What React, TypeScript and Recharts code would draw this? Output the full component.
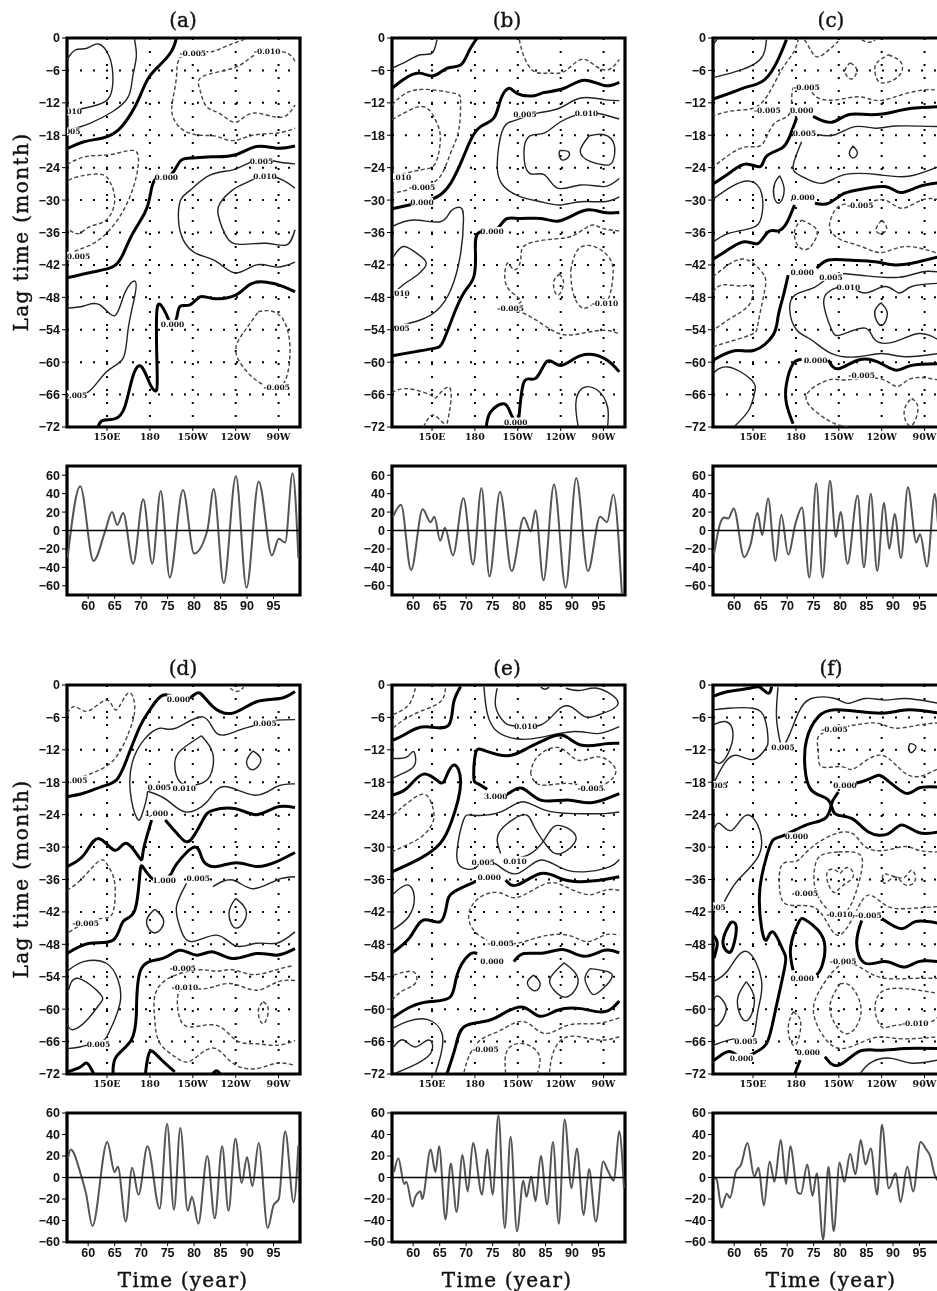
import React from 'react';
import { ScatterChart, Scatter, LineChart, Line, XAxis, YAxis, CartesianGrid, ReferenceArea, ReferenceLine } from 'recharts';

type Pt = number[];
type Contour = [number, Pt[]];
type Lab = [number, number, string];

const lonTicks = [150, 180, 210, 240, 270];
const lonTickLabels = ['150E', '180', '150W', '120W', '90W'];
const lagTicks = [0, -6, -12, -18, -24, -30, -36, -42, -48, -54, -60, -66, -72];
const yearTicks = [60, 65, 70, 75, 80, 85, 90, 95];
const ampTicksTop = [60, 40, 20, 0, -20, -40, -60];
const panelTitles = ['(a)', '(b)', '(c)', '(d)', '(e)', '(f)'];

// [contour level, [[longitude, lag], ...]]
const contoursA: Contour[] = [
  [0, [[198.6,0],[195,-2.5],[187,-5],[179,-7.4],[173,-10.8],[167,-13.9],[158,-17],[147,-18.5],[134,-19.2],[122,-20.5]]],
  [0.005, [[169,0],[170.5,-3.4],[168,-7.1],[165,-10.8],[154,-13.6],[138,-15.8],[124,-17]]],
  [0.01, [[122,-4],[128,-2.2],[136,-1.9],[144,-1.1],[151,-3.1],[154,-6.5],[152,-10.8],[143,-12.4],[134,-13],[123,-13.6]]],
  [-0.005, [[246.5,-0.2],[233.6,-1.5],[224,-2.5],[217,-2.5],[202,-3.4],[198.6,-7.1],[196,-11.4],[196,-14.5],[203,-17],[215,-18],[226.6,-18.2],[238,-19],[252,-18],[268.7,-17.6],[281.5,-16.7]]],
  [-0.01, [[281.5,-4.3],[275.7,-2.8],[262,-2.4],[250,-3.7],[238,-5.6],[217,-7.1],[215,-9.6],[219.6,-12.7],[229,-14],[240,-15.6],[252,-13.9],[271,-14.7],[281.5,-12.4]]],
  [0, [[281.5,-20],[268.7,-20.4],[254.6,-20.1],[240,-21.6],[224,-22],[210.3,-22.2],[202,-22.6],[197.4,-24.4],[191,-25.8],[183.4,-26.3],[180,-29.4],[176.4,-32.4],[168,-36.2],[161.4,-39.9],[154.4,-42.3],[140,-43.3],[122,-44.4]]],
  [-0.005, [[122,-23.4],[136,-21.9],[152,-21.6],[168,-20.8],[172,-22.6],[170.5,-25.6],[166,-29.4],[156.5,-34],[142.5,-37.7],[130,-39.2],[123,-40.2]]],
  [-0.01, [[123,-26.3],[131,-25.6],[145,-25.2],[152,-26.6],[155.4,-30],[149.5,-33.7],[138,-34.9],[130,-36.2],[122,-35.2]]],
  [0.005, [[281.5,-23.3],[271,-23],[260,-22.5],[250,-23],[238,-24.4],[222,-25.4],[208,-28.2],[201.5,-30],[200,-33.7],[203.4,-37.4],[212.6,-39.9],[226.6,-41.4],[240,-43.5],[254.6,-42],[268.7,-42.4],[281.5,-41.5]]],
  [0.01, [[281.5,-27.8],[273,-26.3],[260.5,-25.5],[249,-26.6],[238,-28.1],[229,-30.6],[228,-33],[233.6,-36.8],[243,-38.2],[261.7,-38],[275.7,-38.3],[281.5,-35.5]]],
  [0, [[281.5,-47],[273.4,-46],[261.7,-45.2],[250,-45.6],[240,-47.6],[224,-48.2],[215,-47.9],[208,-49.4],[201,-49.7],[198.6,-51.9],[195,-52.9],[192.7,-51.9],[187,-49.3],[184.6,-52.2],[185,-60.9],[184.6,-65.2],[180,-64],[174,-60.8],[168,-62.7],[162.4,-68.3],[155.4,-70.5],[147,-70.8],[143.7,-72]]],
  [0.005, [[122,-50],[133.7,-49.6],[145,-49.4],[155.4,-51.4],[162.4,-47.2],[169.4,-45],[169.4,-47.8],[164.7,-54],[161.2,-59.3],[149.5,-61.8],[137,-65.5],[122,-66]]],
  [-0.005, [[255.8,-50.7],[264,-50.5],[273.4,-52.2],[278,-57.2],[275.7,-62.7],[268.7,-64.6],[254.6,-63.4],[240.6,-58.7],[245,-54.7],[255.8,-50.7]]],
];
const labelsA: Lab[] = [[210,-2.8,'-0.005'],[262,-2.4,'-0.010'],[191.5,-25.8,'0.000'],[258,-22.7,'0.005'],[260.5,-25.5,'0.010'],[195.8,-52.9,'0.000'],[130,-40.3,'0.005'],[268.7,-64.6,'-0.005'],[128,-66,'0.005'],[127,-13.6,'010'],[126,-17.3,'005']];

const contoursB: Contour[] = [
  [0, [[181.6,0],[175.7,-2.5],[170,-5],[160.5,-5.6],[151,-7],[140.7,-6.5],[130,-7.7],[122,-9.3]]],
  [0.005, [[153.5,-0.3],[150,-2.8],[142,-3.1],[132.5,-4.3],[122,-5.6]]],
  [-0.005, [[211,-0.3],[214.3,-3.4],[221.4,-6.2],[232,-6.5],[242.4,-6.2],[254,-4],[263.5,-5],[273,-5.9],[281,-4]]],
  [0, [[281,-8.2],[270.5,-8.8],[256.5,-7.8],[242.4,-9.3],[228.4,-10.1],[221.4,-10.7],[209.7,-10.3],[203.8,-9.3],[198,-11.4],[193.3,-14.8],[184,-16.4],[177,-18.9],[171,-22.6],[163,-26.9],[153.5,-29.4],[139.5,-30.6],[122,-31.6]]],
  [0.005, [[281,-11.6],[270.5,-11.4],[254,-11.1],[239,-13],[223.7,-13.9],[209.7,-15.1],[205,-15.5],[199,-17.3],[195.6,-23.8],[200.3,-27.5],[212,-29.4],[226,-30.3],[239.6,-30.9],[254,-30.3],[270.5,-30.3],[281,-29.4]]],
  [0.01, [[281,-15],[270.5,-14.2],[257.6,-13.9],[240,-15.5],[228.4,-17.6],[218,-18.2],[214.3,-21.3],[218,-25],[228.4,-25.3],[237.8,-27.8],[254,-27.2],[270.5,-27.5],[281,-26]]],
  [0.015, [[239.4,-20.8],[245,-21],[245.7,-21.9],[241.3,-22.6],[239,-21.6],[239.4,-20.8]]],
  [0.015, [[260,-18.1],[270.5,-17.9],[277.5,-19.8],[276.3,-22.9],[270.5,-23.5],[261,-22.9],[253.7,-21],[260,-18.1]]],
  [-0.005, [[122,-12.4],[130,-10.5],[144,-9.5],[165,-10.2],[170,-11.7],[168.7,-17],[163,-21.3],[155.8,-25.6],[143,-27.5],[123,-28.7]]],
  [-0.01, [[122,-15.1],[132.5,-13.6],[145.3,-12.8],[153.5,-15.8],[155.8,-18.9],[152.3,-23.2],[142,-24.4],[123,-25.6]]],
  [0.005, [[122,-34.9],[137,-33.7],[155.8,-34],[163,-32.1],[170,-31.4],[172,-33.7],[170,-39.9],[163,-46.7],[153.5,-50.4],[141.8,-52.2],[123,-53.5]]],
  [0.01, [[123,-40.5],[130,-38.6],[139.5,-39.9],[146,-41.7],[139.5,-43.9],[131.3,-45.4],[124,-47]]],
  [0, [[281,-32.3],[270.5,-32.3],[260,-31.8],[249.5,-32.7],[238,-33.9],[226.2,-33.4],[212,-33.4],[202.7,-33.4],[198,-34.6],[192,-35.7],[182,-36.2],[180.4,-39.9],[179.2,-44.2],[173.4,-46.7],[166.4,-50.4],[158.2,-55.9],[152.3,-57.4],[139.5,-58],[122,-58.8]]],
  [-0.005, [[281,-35.7],[269,-35.2],[260.9,-34.7],[249.5,-36.5],[235.5,-37.2],[215.5,-38.3],[212,-41.1],[207.3,-42.9],[202.7,-41.7],[201.5,-45.4],[209.7,-47.9],[211,-49.1],[205,-49.9],[219,-51.6],[237.8,-54.6],[254,-54.7],[270.5,-54.1],[281,-54.8]]],
  [-0.01, [[247,-43],[252,-39.2],[263.5,-38.6],[275,-41.1],[276.3,-44.8],[272.8,-48.5],[265,-49],[255.8,-50],[248.8,-47.3],[247,-43]]],
  [-0.01, [[239,-43.7],[242,-45.4],[238,-47.6],[235,-45.4],[239,-43.7]]],
  [0, [[281,-61.8],[270.5,-59.3],[254,-58.8],[240,-60.6],[230.7,-59.8],[222.5,-63],[214.3,-63.7],[210.8,-70.1],[208.5,-71]]],
  [0, [[208.5,-71],[205,-69.5],[200.3,-67.7],[191,-69.2],[188,-71.9]]],
  [0.005, [[252.3,-72],[250.6,-67.7],[255.3,-64.8],[265.8,-65.2],[272.8,-68.3],[272.8,-72]]],
  [-0.005, [[122,-65.7],[132.5,-64.9],[149,-66.1],[153.5,-66.4],[161.7,-64.6],[163,-67.7],[160.5,-71.4]]],
  [-0.005, [[144,-72],[150,-69.8],[156,-70.8],[160,-71.6]]],
];
const labelsB: Lab[] = [[215,-14,'0.005'],[258,-13.9,'0.010'],[143,-27.5,'-0.005'],[129,-25.8,'.010'],[143,-30.3,'0.000'],[192,-35.7,'0.000'],[129,-53.6,'005'],[129,-47.2,'010'],[205,-49.9,'-0.005'],[271,-49,'-0.010'],[208.5,-71,'0.000']];

const contoursC: Contour[] = [
  [0, [[173.4,-0.3],[167.5,-4],[158.2,-7.7],[146.5,-9],[137,-9.9],[121,-11.4]]],
  [0.005, [[159.4,-0.3],[155.9,-3.7],[141.8,-5.9],[121,-7.4]]],
  [0.005, [[122,-1.2],[125,-0.2]]],
  [-0.005, [[121,-14.5],[135,-13.5],[150,-13],[160.5,-10.5],[170,-5.9],[178,-2.8],[181.6,-0.3]]],
  [-0.005, [[121,-24.1],[137,-21],[148,-20.1],[157,-19.5],[165,-15.8],[175.8,-13.9],[178,-9.3],[187.4,-9],[195.6,-11.1],[209.7,-11.4],[225,-10.9],[238,-11.6],[254,-10.5],[270,-9.6],[280,-9.7]]],
  [-0.005, [[186,-0.3],[191,-2.5],[196.8,-3.4],[209.7,-0.6]]],
  [-0.005, [[226,-0.3],[230.7,-0.8],[235.4,-0.4]]],
  [-0.005, [[218,-4.6],[222.5,-5.9],[219,-7.6],[214.4,-6.2],[218,-4.6]]],
  [-0.005, [[244.8,-3.1],[253.7,-4.6],[251.8,-7.1],[240,-8.3],[235.4,-6.5],[236.6,-4.6],[244.8,-3.1]]],
  [0, [[192,-14.5],[205,-15.6],[216.7,-14.2],[233,-14.2],[249.5,-13.6],[261,-13],[280,-12.7]]],
  [0, [[180.5,-14.8],[175.7,-18.2],[170,-20.4],[159.4,-21.9],[155,-23.8],[145.3,-23.3],[135,-24.7],[121,-27.2]]],
  [0.005, [[195.6,-17.9],[207.3,-17.9],[221.4,-16.4],[235.4,-16.7],[249.5,-16.3],[280,-16.4]]],
  [0.005, [[184,-19.2],[178,-23.8],[184,-25.6],[198,-26.9],[214,-25.3],[238,-25.3],[258.8,-25.6],[280,-23.8]]],
  [0.01, [[220,-20],[223,-21.3],[220,-22.2],[217.4,-21.3],[220,-20]]],
  [0, [[280,-26.8],[266,-27.5],[253,-28.6],[242.4,-27.5],[223.7,-28.1],[212,-29],[202.7,-30.6],[193.3,-30.6]]],
  [0, [[179,-30.9],[173.4,-34.3],[167.5,-35.7],[160.5,-35.9],[153.5,-38],[144,-37.7],[132.5,-39.2],[121,-41.1]]],
  [0.005, [[168.7,-25.5],[171.8,-28.1],[168.7,-30.5],[164.7,-29.4],[165.2,-26.9],[168.7,-25.5]]],
  [0.005, [[121,-30],[135,-27.5],[147.7,-26.5],[155.9,-28.7],[155.9,-33.1],[148.8,-35.2],[132.5,-36.2],[121,-38]]],
  [-0.005, [[280,-29.9],[268,-30],[254,-31.5],[242.4,-30],[228,-30.5],[212,-30.9],[205,-33.1],[204,-35.5],[212,-37.4],[226,-38.6],[240,-39.7],[256.5,-38.6],[280,-39.9]]],
  [-0.005, [[184,-33.7],[194.5,-35.5],[192,-38],[186.3,-39.2],[180.4,-38],[179.3,-35.5],[184,-33.7]]],
  [-0.01, [[240,-33.7],[243.5,-35.2],[240,-36.2],[236,-35.5],[240,-33.7]]],
  [0, [[280,-40.5],[266,-41.4],[249.5,-42],[235.4,-41.4],[216.7,-41.1],[202.7,-41.1],[194.5,-42.6]]],
  [0, [[174.6,-43.9],[171,-47.9],[167.5,-51.6],[164,-55],[151,-57.8],[137,-57.9],[121,-59.8]]],
  [0.005, [[213,-43.6],[228.4,-44],[251.8,-44.3],[268,-43.3],[280,-43.3]]],
  [0.005, [[200.3,-44.8],[191,-46.4],[179.3,-47.6],[175.7,-50.4],[180.4,-54],[191,-55.9],[205,-58.4],[223.7,-59],[240,-58.4],[256.5,-59],[280,-58.4]]],
  [0.01, [[280,-45.4],[261,-46],[252,-47.2],[242.4,-46],[228.4,-47.2],[216.7,-46],[202.6,-47],[199.8,-49.8],[205,-54],[212,-54.9],[228.4,-53.7],[235.4,-55.9],[249.5,-56.2],[265.8,-54.7],[280,-55.9]]],
  [0.015, [[239.4,-49],[244,-51],[240,-53.2],[235.4,-51.6],[235.9,-50.1],[239.4,-49]]],
  [-0.005, [[122,-44.2],[132.5,-42],[145.3,-41],[157,-43.6],[158.2,-46.7],[153.5,-52.8],[147.7,-55],[121,-57.2]]],
  [-0.01, [[122,-47],[129,-45.7],[142,-45.9],[149,-46],[148,-49.1],[136,-51.6],[122,-54.1]]],
  [0, [[280,-60.3],[261,-60.6],[250.6,-61.5],[240,-60.3],[225,-59.5],[210,-61.2],[202.7,-59.6]]],
  [0, [[184,-59.5],[178,-60.3],[173.4,-64],[173.4,-67.7],[178,-71.4]]],
  [0.005, [[121,-62.4],[132.5,-60.9],[149,-63.3],[151,-65.8],[147,-68.9],[137,-71.9]]],
  [-0.005, [[280,-63.3],[261,-63],[250.6,-64.5],[237.8,-63],[214.4,-63.3],[202.7,-63.3],[187.4,-66.1],[195.6,-69.5],[207.3,-71.4],[216.7,-72]]],
  [-0.01, [[261,-66.7],[265.4,-68.6],[261,-71.7],[256,-70.2],[257,-68],[261,-66.7]]],
];
const labelsC: Lab[] = [[187.4,-9,'-0.005'],[160,-13.4,'-0.005'],[184,-13.3,'0.000'],[186,-17.6,'0.005'],[185,-29.5,'0.000'],[225,-30.9,'-0.005'],[184.4,-43.4,'0.000'],[204.5,-44.2,'0.005'],[216.7,-46,'0.010'],[193.8,-59.6,'0.000'],[226,-62.4,'-0.005']];

const contoursD: Contour[] = [
  [0, [[281.5,-1.2],[271,-2.5],[254.6,-3.1],[238,-5.2],[224,-4],[215,-1.5],[209,-2.2],[200,-2.5],[189,-1.9],[180,-4.6],[173,-7.7],[163.6,-13.9],[156.5,-17.6],[146.5,-18.8],[134,-20],[122,-20.7]]],
  [-0.005, [[122,-5.2],[128,-4],[137,-4.8],[150,-2.8],[156.5,-4.6],[164.7,-1.5],[169.4,-4],[165.9,-8.3],[156.5,-13.3],[142.5,-16],[125,-17.6]]],
  [-0.005, [[236,-0.6],[241,-1.2],[245.6,-0.4]]],
  [0.005, [[281.5,-6.4],[268.7,-6.5],[260,-7],[243,-8.3],[227,-9],[217,-5.9],[198,-8],[187,-8],[175.7,-10.2],[167.5,-14.5],[166.4,-20],[171,-24.7],[174.7,-23.8],[178,-20.5],[180,-19.8],[192,-21.3],[205,-23.5],[220,-21.6],[232,-18.8],[253,-20.4],[268.7,-18.8],[281.5,-18.3]]],
  [0.01, [[216,-9.4],[224,-12.7],[221.7,-17],[211.5,-18.5],[201,-17.9],[197.4,-14.5],[202,-12],[216,-9.4]]],
  [0.01, [[252,-12.2],[257.7,-13.9],[252,-15.7],[247.6,-14.2],[252,-12.2]]],
  [0, [[281.5,-22.7],[268.7,-22.6],[254.6,-24],[240,-22.9],[224,-23.2],[217,-25],[208.4,-28.7],[201,-28.1],[190.7,-25]]],
  [0, [[181.2,-25],[175.4,-30.6],[173,-32.1],[163.6,-29.3],[155.4,-30.6],[144,-28.4],[133.7,-31.5],[122,-33.6]]],
  [0, [[281.5,-31],[268.7,-32.7],[254.6,-33.6],[240.6,-32.9],[226.6,-33.6],[217,-32.4],[211.4,-30],[199,-33],[195,-34.9],[190,-36],[182,-35.9],[175.4,-33.8],[173,-34.9],[169.4,-41.7],[161.2,-43.8],[154.4,-47.2],[138,-47.8],[122,-49.7]]],
  [-0.005, [[122,-38],[132.6,-35.8],[145,-32.5],[151,-33.6],[155.4,-36.7],[154.2,-42],[147,-43.2],[135,-44],[122,-46]]],
  [0.005, [[281.5,-35.5],[268.7,-36.1],[252,-37.7],[238,-36.1],[224,-37.3]]],
  [0.005, [[205.6,-36.7],[198.6,-41],[201,-44.8],[209,-47.5],[226.6,-46.3],[240,-48.3],[254.6,-47.8],[268.7,-47.8],[281.5,-45.7]]],
  [0.01, [[240,-39.5],[247.6,-42.3],[240.6,-45],[235.3,-42.3],[240,-39.5]]],
  [0.01, [[183.4,-41.5],[189.7,-43.8],[183.4,-45.9],[177.6,-43.8],[183.4,-41.5]]],
  [0, [[281.5,-48.8],[268.7,-50],[254.6,-49.7],[238,-50.6],[224,-49.4],[212.5,-50],[201,-49.1],[189,-50.6],[174,-52.5],[170.6,-60.2],[167,-65.7],[156.5,-68.8],[154.2,-71.9]]],
  [0, [[122,-71.6],[131.3,-70.7],[136,-70],[140.6,-71.9]]],
  [0, [[176.9,-71.9],[180,-67.9],[187,-69.1],[197.4,-71.6]]],
  [0, [[224,-71.9],[226.6,-71.4],[229,-71.9]]],
  [0.005, [[122,-53],[133.7,-51.2],[149.5,-51.5],[157.7,-54.6],[159,-59],[151,-64.5],[145,-66],[131,-67],[122,-67.3]]],
  [0.01, [[123,-56.5],[130,-54.3],[145,-57.1],[145,-59],[136,-62],[126,-63.8],[122,-62.7]]],
  [-0.005, [[279,-52],[268.7,-52.7],[252,-53.6],[238,-52.7],[227,-53],[215,-52.7],[196,-53.9],[184,-57],[183.4,-62],[187,-66.3],[198.6,-69],[209,-69.5],[224,-67.2],[238,-70],[254.6,-71],[268.7,-70],[281.5,-70.4]]],
  [-0.01, [[281.5,-54.7],[268.7,-55],[254.6,-56.5],[238,-55.3],[224,-55.9],[212.5,-56.2],[201,-56.5],[200,-60.8],[208,-63.3],[226.6,-63],[240.6,-65.8],[254.6,-66.4],[268.7,-66.7],[281.5,-65.8]]],
  [-0.015, [[259.3,-58.6],[262.8,-60.2],[259.3,-62.7],[255.8,-60.5],[259.3,-58.6]]],
];
const labelsD: Lab[] = [[200,-2.5,'0.000'],[130,-17.5,'.005'],[260.5,-7,'0.005'],[186.6,-18.8,'0.005'],[204,-19,'0.010'],[184.6,-23.6,'1.000'],[190,-36,'1.000'],[213.8,-35.8,'0.005'],[135,-44,'-0.005'],[203,-52.3,'-0.005'],[204.5,-55.9,'-0.010'],[144,-66.4,'0.005']];

const contoursE: Contour[] = [
  [0, [[170,-0.3],[165,-3.4],[161.7,-7.4],[150,-7.8],[139.5,-8],[130,-9.3],[122,-10.3]]],
  [-0.005, [[138.3,-0.6],[133.6,-3.7],[122,-5.6]]],
  [-0.005, [[159.4,-0.6],[155.8,-3.1],[141.8,-4.9],[130,-6.5],[122,-8.1]]],
  [0.005, [[186.3,-0.3],[188.6,-5.2],[195.6,-8.6],[209.7,-10],[226,-9.7],[249.5,-8.6],[265.8,-9],[281,-7.7]]],
  [0.01, [[195.6,-0.6],[194.5,-4],[200.3,-6.8],[208.5,-7.6],[226,-7.4],[237.8,-4.7],[247,-4],[256.5,-5.8],[265.8,-5.6],[277.5,-4.3],[278.7,-2.5],[265.8,-0.6],[254,-1],[243.6,-0.6]]],
  [0.01, [[226,-0.4],[229,-0.8],[232,-0.4]]],
  [0, [[281,-10.8],[270.5,-10.9],[254,-11.1],[241.3,-9.3],[228.4,-10.2],[216.7,-11.7],[202.7,-13.1],[186.3,-12.1],[180.4,-12.7],[179.2,-17],[181.6,-18.2],[188.6,-19.3]]],
  [0, [[194.5,-20.5],[202.7,-20.2],[213,-19.1],[226,-21.3],[244.8,-21.3],[261,-21.8],[281,-20.1]]],
  [0, [[122,-20.4],[132.5,-19.1],[144,-16.5],[154.7,-17.9],[159.4,-17.3],[165.2,-14.8],[170,-18.2],[164,-25],[155.8,-29.3],[141.8,-32.1],[122,-34.6]]],
  [0.005, [[122,-13.6],[132.5,-13.3],[137.2,-12.3],[138.3,-14.5],[132.5,-16],[122,-17.3]]],
  [-0.005, [[123,-24],[132.5,-21.9],[144,-20.2],[150,-22.2],[151,-25],[144,-27.8],[132.5,-29.6],[122,-30.9]]],
  [-0.005, [[219,-16.4],[223.7,-13.3],[239,-11.6],[251.8,-13.9],[265.8,-13.3],[277.5,-15.1],[276.3,-17.3],[268,-18.8],[261,-19.1],[244.8,-18.2],[226,-18.5],[219,-16.4]]],
  [0.005, [[281,-23.5],[270.5,-23.8],[249.5,-23.8],[228.4,-23.1],[213,-21.6],[198,-23.5],[179.2,-24.1],[172,-25],[167.5,-30.6],[170,-33.6],[179.2,-34],[185.8,-32.7],[195.6,-33.3],[209.7,-34.9],[226,-32.4],[244.8,-34.3],[270.5,-34],[281,-32.3]]],
  [0.01, [[198,-31.2],[195.6,-28.7],[200.3,-26.2],[214.4,-24],[221.4,-26.2],[230.7,-29.9],[240,-31.2],[250.6,-28.7],[244.8,-26.5],[235.4,-26.2],[228.4,-28.7],[219,-31.2],[208.5,-32.1]]],
  [0, [[281,-35.5],[270.5,-36],[254,-36.4],[239.6,-35.8],[226,-34.9],[209.7,-37],[201.5,-36.1]]],
  [0, [[180.4,-36.4],[165.2,-38.3],[160.5,-40.4],[155.8,-43.8],[144,-43.5],[134.8,-46.6],[122,-49.6]]],
  [0.005, [[122,-38.9],[132.5,-37],[137.6,-39.2],[133.6,-42.9],[122,-45.4]]],
  [-0.005, [[281,-38],[270.5,-38],[259,-38.8],[242.4,-37.2],[228.4,-36.9],[209.7,-39.3],[198,-38.5],[184,-39.2],[175.8,-42.3],[179.2,-45.4],[188.6,-47.2],[198,-47.7],[209.7,-47.8],[226,-46.6],[244.8,-46.3],[258.8,-47.5],[270.5,-46.3],[281,-46.3]]],
  [0, [[281,-49.6],[270.5,-49.1],[256.5,-50.2],[242.4,-49],[228.4,-49.6],[214.3,-49.7],[207.3,-51.2]]],
  [0, [[181.6,-49.7],[175.7,-50],[167.5,-53.7],[162.9,-57.7],[149,-58.6],[134.8,-59.6],[122,-61.7]]],
  [-0.005, [[123,-53.7],[137,-53.1],[138.3,-55.2],[130,-56.5],[122,-58.3]]],
  [0.005, [[221,-53.7],[225.6,-55.2],[222,-56.6],[216.7,-55.2],[221,-53.7]]],
  [0.005, [[242.4,-51.4],[252.2,-54.6],[244.8,-57.7],[235.4,-56.5],[232.6,-54.3],[242.4,-51.4]]],
  [0.005, [[260.5,-52.5],[273.4,-53.1],[275,-54.6],[265.2,-57.1],[260,-56.5],[257,-54.3],[260.5,-52.5]]],
  [0, [[281,-58.5],[270.5,-60.5],[254,-59.9],[237.8,-60.2],[225,-61.3],[213,-59.6],[198,-61.1],[186.3,-62.3],[172.2,-63.3],[166.4,-67],[160.5,-71.9]]],
  [0.005, [[122,-63.6],[132.5,-62.3],[146.5,-61.9],[157,-64.5],[155.8,-68.8],[152.3,-71.9]]],
  [0.01, [[123,-67],[130,-65.7],[138.3,-67],[147.7,-65.7],[149,-68.2],[134.8,-70.7],[124,-71.9]]],
  [-0.005, [[281,-61.6],[263.5,-62.7],[244.8,-63],[228.4,-64.5],[214.3,-62.3],[198,-63.9],[184,-65.7],[175.7,-68.8],[172.2,-71.9]]],
  [-0.005, [[281,-65.1],[270.5,-65.7],[258.8,-65.4],[244.8,-65.1],[235.4,-67.6],[232,-71.9]]],
  [-0.005, [[201.5,-71.9],[202.7,-67.6],[214.3,-66.4],[224.9,-68.5],[223.7,-71.9]]],
];
const labelsE: Lab[] = [[215.5,-7.6,'0.010'],[194.5,-20.5,'3.000'],[261,-19.1,'-0.005'],[185.8,-32.7,'0.005'],[208,-32.5,'0.010'],[190,-35.6,'0.000'],[198,-47.7,'-0.005'],[192,-51,'0.000'],[187.4,-67.4,'-0.005']];

const contoursF: Contour[] = [
  [0, [[121,-2.2],[132.5,-1.2],[147.7,-0.6],[154.7,-0.4],[160.5,-1.5],[163,-0.3]]],
  [0.005, [[167.5,-0.4],[166.4,-5.9],[168.7,-10.2],[171,-11.4],[175.8,-9],[181.6,-5.2],[190.7,-2.5],[207.3,-2.5],[216.7,-3.4],[228.4,-2.5],[242.4,-2.8],[256.5,-2.5],[280,-3.4]]],
  [0.005, [[122,-4.6],[132.5,-4.3],[150,-4.3],[158.2,-6.2],[160.5,-10.2],[158.2,-12],[150,-13.8],[138.3,-13],[130,-14.5],[123,-17.9]]],
  [0.01, [[122,-7.4],[131.3,-6.8],[136,-9],[132.5,-12.7],[126.6,-14.5],[122,-13.9]]],
  [0, [[280,-5.2],[258.8,-4.6],[242.4,-5.2],[223.7,-4.9],[207.3,-4.6],[195.6,-5.9],[187.4,-10.2],[186.3,-15.2],[191,-19.5],[202.7,-21.3],[207.3,-23.8],[219,-24.7],[230.7,-27.2],[244.8,-27.5],[254,-25.9],[265.8,-27.3],[280,-27.2]]],
  [0, [[280,-18.9],[265.8,-19.1],[256.5,-20],[242.4,-17.3],[235.4,-16.9],[226,-17.9],[214.4,-18.5]]],
  [0, [[209.7,-19.8],[206,-21.3],[204.5,-22.5],[200.3,-24.7],[187.4,-25.9],[172,-27.8],[164,-28.7],[159.4,-31.8],[154.7,-38],[155.9,-44.8],[159.4,-47.2],[164,-45.7],[171,-49.1],[172.2,-52.2],[165.2,-60.8],[159.4,-66.4],[150,-68.2],[142,-69],[134.8,-67.9],[127.8,-68.5],[121,-69.8]]],
  [-0.005, [[280,-7],[266,-7.4],[249.5,-8],[237.8,-7.1],[221.4,-7.4],[198,-9],[195.6,-12],[198,-15.1],[212,-15.1],[221.4,-15.4],[240,-13],[258.8,-16.7],[280,-15.4]]],
  [0.01, [[260,-10.8],[264,-11.4],[261,-12.5],[258.8,-11.7],[260,-10.8]]],
  [0.005, [[122,-27.2],[126.6,-25.6],[135,-26.9],[145.3,-24.1],[154.7,-26.9],[153.5,-31.8],[139.5,-36.1],[130,-40.1]]],
  [-0.005, [[280,-30.9],[266,-30.6],[256.5,-29.9],[242.4,-30.6],[228.4,-29.9],[218,-27.3],[200.3,-28.4],[186.3,-31.2],[179.2,-32.7],[170,-33.4],[168.7,-38],[174.6,-40.7],[191,-41],[201.5,-43.8],[210.4,-46.3],[221.4,-42.3],[230.7,-38.9],[242.4,-40.7],[256.5,-41.4],[280,-41]]],
  [-0.01, [[209.7,-30.9],[223.7,-31.2],[226,-34.3],[219,-40.4],[210.5,-42.3],[200.3,-41],[193.3,-37.4],[193.3,-33.6],[198,-31.5],[209.7,-30.9]]],
  [-0.015, [[211,-34.9],[216.7,-33.8],[220,-35.5],[212,-37.3],[206,-38.3],[201.5,-35.5],[205,-34.1],[211,-34.9]]],
  [-0.015, [[242.4,-34.9],[249.5,-35.5],[256.5,-35.5],[261,-34.3],[263.5,-36.1],[256.5,-37],[249.5,-35.5],[242.4,-36.7],[240.6,-35.5],[242.4,-34.9]]],
  [0, [[122,-46.3],[125,-47.8],[122.6,-50.6]]],
  [0, [[134.8,-43.8],[138.3,-44.8],[136,-48.5],[132.5,-49.4],[129,-47.8],[131.3,-45.4],[134.8,-43.8]]],
  [0, [[178,-52.8],[176.3,-48.5],[181.6,-44.1],[186.3,-43.4],[195.6,-45.4],[200.3,-48.5],[198,-52.2],[194.5,-53.7]]],
  [0, [[280,-44.1],[263.5,-43.8],[254,-45.1],[240,-43.2]]],
  [0, [[226,-43.6],[222.5,-47.8],[228.4,-51.5],[242.4,-51.2],[255,-52.2],[265.8,-51.2],[280,-51.2]]],
  [0.005, [[122,-54.9],[132.5,-52.8],[145.3,-49.3],[155.9,-54.6],[153.5,-60.2],[150,-65.1],[139.5,-65.4],[122,-66.7]]],
  [0.01, [[145.3,-54.9],[151,-58.3],[146.5,-62],[140.6,-60.8],[139.5,-57.7],[145.3,-54.9]]],
  [0.01, [[126.6,-57.7],[131.3,-59.9],[126.6,-62.7],[122,-62.3],[122.6,-58.3],[126.6,-57.7]]],
  [-0.005, [[178,-60.5],[183.4,-62.7],[179.3,-66.7],[174.6,-63.9],[178,-60.5]]],
  [-0.005, [[280,-54.3],[261,-54.3],[242.4,-54.3],[228.4,-52.8],[213,-51.6],[198,-55.9],[192.2,-60.2],[198,-64.5],[212,-67.3],[233,-65.4],[249.5,-65.4],[266,-65.4],[280,-65.1]]],
  [-0.01, [[210.8,-55.3],[219,-55.9],[225.6,-60.2],[219,-64.2],[209.7,-63.6],[203.8,-59.6],[210.8,-55.3]]],
  [-0.01, [[280,-61.1],[271.7,-62.5],[249.5,-63],[240,-63.3],[235.4,-60.2],[240,-56.8],[256.5,-56.2],[280,-57.1]]],
  [0, [[280,-67.3],[256.5,-67.3],[237.8,-67.6],[223.7,-67.9],[209.7,-70.4],[200.3,-68.8]]],
  [0, [[179.3,-71.9],[183,-69.4]]],
  [0.005, [[280,-69.4],[261,-70],[247,-69.1],[233,-69.8],[225,-71.9]]],
];
const labelsF: Lab[] = [[171,-11.4,'0.005'],[207,-8.1,'-0.005'],[127,-18.5,'005'],[214.4,-18.5,'0.000'],[180.4,-28,'0.000'],[186.3,-38.5,'-0.005'],[125.5,-41,'005'],[210.5,-42.3,'-0.010'],[230.7,-42.5,'-0.005'],[213,-51,'-0.005'],[184.4,-54.3,'0.000'],[263.5,-62.5,'-0.010'],[145,-65.9,'0.005'],[142,-69,'0.000'],[188.7,-67.9,'0.000']];

// [year, amplitude] turning points of each time series
const seriesA: Pt[] = [[56.1,-30],[58.5,48],[61,-33],[63.3,1],[64.5,20],[65.5,6],[66.6,19],[68.5,-36],[70.4,34],[72.1,-36],[73.7,43],[75.4,-51],[77.9,44],[80,-25],[82.5,0],[83.7,45],[85.6,-57],[87.9,59],[89.9,-62],[92.2,53],[94.7,-27],[96,-9],[97.2,-13],[98.6,62],[99.7,-30]];
const seriesB: Pt[] = [[56.2,15],[57.7,28],[59.6,-43],[61.8,23],[63.3,9],[64,15],[65.1,-11],[66,3],[67.5,-27],[69.5,35],[71.3,-37],[72.9,46],[74.4,-50],[76.4,42],[78.6,-44],[80.9,14],[82.2,-1],[83.1,22],[84.6,-54],[86.6,50],[88.8,-62],[90.8,57],[93,-44],[95.3,15],[96.6,9],[97.8,39],[99.4,-68]];
const seriesC: Pt[] = [[56.2,-25],[57.5,10],[58.1,14],[58.9,13],[59.9,24],[61.9,-29],[63.1,-15],[64.4,19],[65.3,-5],[66.4,35],[67.8,-33],[68.9,17],[70.2,-26],[71.6,8],[72.8,25],[74.2,-51],[75.5,51],[76.7,-51],[78.1,54],[79.2,-7],[80.1,20],[81.4,-36],[83.3,38],[84.5,-40],[85.8,40],[87,-44],[88.3,30],[89.3,-20],[90.3,18],[91.5,-30],[92.8,47],[94.4,-13],[95.1,-4],[96.4,-39],[97.9,40],[98.8,-10],[99.7,-20]];
const seriesD: Pt[] = [[56.2,18],[56.7,26],[58.6,3],[59.6,-15],[60.8,-45],[63.6,33],[65,5],[65.6,10],[67.1,-41],[68.3,9],[69.5,-16],[71.2,29],[73.5,-29],[74.9,50],[76.2,-30],[77.4,46],[78.8,-31],[79.6,-18],[80.8,-43],[82.5,20],[83.9,-38],[85.3,29],[86.5,-31],[87.8,36],[89,-5],[90,19],[91,-8],[92.2,32],[93.9,-47],[95,-26],[96,-20],[97.2,43],[98.8,-23],[99.7,30]];
const seriesE: Pt[] = [[56.4,5],[57.2,18],[58.3,-6],[58.7,-4],[59.9,-27],[60.4,-18],[61.4,-13],[61.7,-20],[63.3,26],[64.2,5],[64.9,29],[66.1,-39],[67.1,13],[68.2,-32],[69.3,21],[70.3,-13],[71.3,32],[73,-16],[74,26],[75,-16],[76.1,58],[77.3,-47],[78.4,38],[79.6,-50],[80.8,-3],[81.4,-18],[82.3,1],[83.1,-22],[84.1,20],[85.3,-25],[86.4,33],[87.5,-43],[88.6,54],[89.9,-10],[90.9,27],[92.2,-35],[93.2,8],[94.5,-41],[95.9,15],[96.7,7],[97.9,-3],[98.9,43],[99.8,-10]];
const seriesF: Pt[] = [[56.3,0],[56.7,-2],[57.6,-28],[58.6,-15],[59.2,-19],[60.3,5],[61.3,12],[62.5,32],[63.8,1],[64.6,9],[65.6,-26],[66.7,15],[67.6,-4],[68.8,35],[69.8,-6],[70.6,29],[72,-14],[72.6,-15],[73.8,12],[74.8,-17],[75.6,4],[76.8,-58],[77.8,10],[78.8,-50],[79.9,14],[80.8,-4],[81.9,22],[82.9,3],[83.9,35],[84.8,12],[85.8,27],[87,-16],[87.9,49],[89.2,-10],[90.5,4],[91.4,-23],[92.7,10],[93.8,-13],[95.2,33],[96.3,26],[97,20],[97.9,2],[99.1,-5],[99.9,10]];

const allContours = [contoursA, contoursB, contoursC, contoursD, contoursE, contoursF];
const allLabels = [labelsA, labelsB, labelsC, labelsD, labelsE, labelsF];
const allSeries = [seriesA, seriesB, seriesC, seriesD, seriesE, seriesF];

const plotLefts = [67, 392, 713];
const contourTops = [38, 685];
const seriesTops = [466, 1113];
const PLOT_W = 233;
const CONTOUR_H = 389;
const SERIES_H = 129;
const AXIS_W = 50;

const sansTick = { fontFamily: 'Liberation Sans', fontSize: 12.5, fontWeight: 700, fill: '#111' };
const serifTick = { fontFamily: 'DejaVu Serif', fontSize: 9.5, fontWeight: 700, fill: '#111' };
const minus = (v: number) => String(v).replace('-', '\u2212');
const NoPoint = () => null;

function styleFor(level: number) {
  if (level === 0) return { stroke: '#000', strokeWidth: 3 };
  if (level > 0) return { stroke: '#222', strokeWidth: 1.4 };
  return { stroke: '#444', strokeWidth: 1.4, strokeDasharray: '4 2.5' };
}

function ContourLabel(props: any) {
  const text = props.payload?.text ?? props.text;
  const w = String(text).length * 4.5;
  return (
    <g>
      <rect x={props.cx - w / 2} y={props.cy - 4} width={w} height={8} fill="#fff" />
      <text x={props.cx} y={props.cy + 3} textAnchor="middle" fontFamily="DejaVu Serif" fontSize={7.5} fontWeight={700} fill="#111">{text}</text>
    </g>
  );
}

function ContourPanel({ index, left, top }: { index: number; left: number; top: number }) {
  const labels = allLabels[index].map(([lon, lag, text]) => ({ lon, lag, text }));
  return (
    <div style={{ position: 'absolute', left: left - AXIS_W, top: top - 6 }}>
      <ScatterChart width={PLOT_W + AXIS_W + 6} height={CONTOUR_H + 30} margin={{ top: 6, right: 6, bottom: 0, left: 0 }}>
        <CartesianGrid stroke="#000" strokeWidth={2} strokeDasharray="2 11" />
        <XAxis type="number" dataKey="lon" domain={[122, 285]} ticks={lonTicks} interval={0} allowDataOverflow height={24}
          tickFormatter={(v: number) => lonTickLabels[lonTicks.indexOf(v)]} tick={serifTick} tickSize={4} axisLine={false} stroke="#000" />
        <YAxis type="number" dataKey="lag" domain={[-72, 0]} ticks={lagTicks} interval={0} allowDataOverflow width={AXIS_W}
          tickFormatter={minus} tick={sansTick} tickSize={5} axisLine={false} stroke="#000" />
        {allContours[index].map(([level, pts], i) => (
          <Scatter key={i} data={pts.map(([lon, lag]) => ({ lon, lag }))} line={styleFor(level)} lineJointType="natural" shape={NoPoint} isAnimationActive={false} />
        ))}
        <Scatter data={labels} shape={ContourLabel} isAnimationActive={false} />
        <ReferenceArea x1={122} x2={285} y1={-72} y2={0} fill="none" stroke="#000" strokeWidth={3.2} ifOverflow="visible" />
      </ScatterChart>
    </div>
  );
}

function SeriesPanel({ index, left, top, limit }: { index: number; left: number; top: number; limit: number }) {
  const data = allSeries[index].map(([year, amp]) => ({ year, amp }));
  return (
    <div style={{ position: 'absolute', left: left - AXIS_W, top: top - 6 }}>
      <LineChart width={PLOT_W + AXIS_W + 6} height={SERIES_H + 30} data={data} margin={{ top: 6, right: 6, bottom: 0, left: 0 }}>
        <XAxis type="number" dataKey="year" domain={[56, 100]} ticks={yearTicks} interval={0} allowDataOverflow height={24}
          tick={sansTick} tickSize={4} axisLine={false} stroke="#000" />
        <YAxis type="number" domain={[-limit, limit]} ticks={ampTicksTop} interval={0} allowDataOverflow width={AXIS_W}
          tickFormatter={minus} tick={sansTick} tickSize={5} axisLine={false} stroke="#000" />
        <Line dataKey="amp" type="monotone" stroke="#555" strokeWidth={2} dot={false} isAnimationActive={false} />
        <ReferenceLine y={0} stroke="#000" strokeWidth={1.4} />
        <ReferenceArea x1={56} x2={100} y1={-limit} y2={limit} fill="none" stroke="#000" strokeWidth={3.2} ifOverflow="visible" />
      </LineChart>
    </div>
  );
}

const serifText: React.CSSProperties = { position: 'absolute', fontFamily: 'DejaVu Serif', color: '#111', whiteSpace: 'nowrap', transform: 'translate(-50%,-50%)', WebkitTextStroke: '0.4px #111' };

export default function App() {
  const cols = [183, 507, 831];
  return (
    <div style={{ position: 'absolute', left: 0, top: 0, width: 937, height: 1291, overflow: 'hidden', background: '#fff', filter: 'blur(0.6px)' }}>
      {panelTitles.map((t, i) => (
        <div key={t} style={{ ...serifText, fontSize: 20, left: cols[i % 3], top: i < 3 ? 20 : 668 }}>{t}</div>
      ))}
      {[0, 1, 2, 3, 4, 5].map((i) => (
        <ContourPanel key={i} index={i} left={plotLefts[i % 3]} top={contourTops[i < 3 ? 0 : 1]} />
      ))}
      {[0, 1, 2, 3, 4, 5].map((i) => (
        <SeriesPanel key={i} index={i} left={plotLefts[i % 3]} top={seriesTops[i < 3 ? 0 : 1]} limit={i < 3 ? 70 : 60} />
      ))}
      {[232, 879].map((y) => (
        <div key={y} style={{ ...serifText, fontSize: 20, letterSpacing: 1.4, left: 21, top: y, transform: 'translate(-50%,-50%) rotate(-90deg)' }}>Lag time (month)</div>
      ))}
      {cols.map((x) => (
        <div key={x} style={{ ...serifText, fontSize: 20, letterSpacing: 1.2, left: x, top: 1280 }}>Time (year)</div>
      ))}
    </div>
  );
}
